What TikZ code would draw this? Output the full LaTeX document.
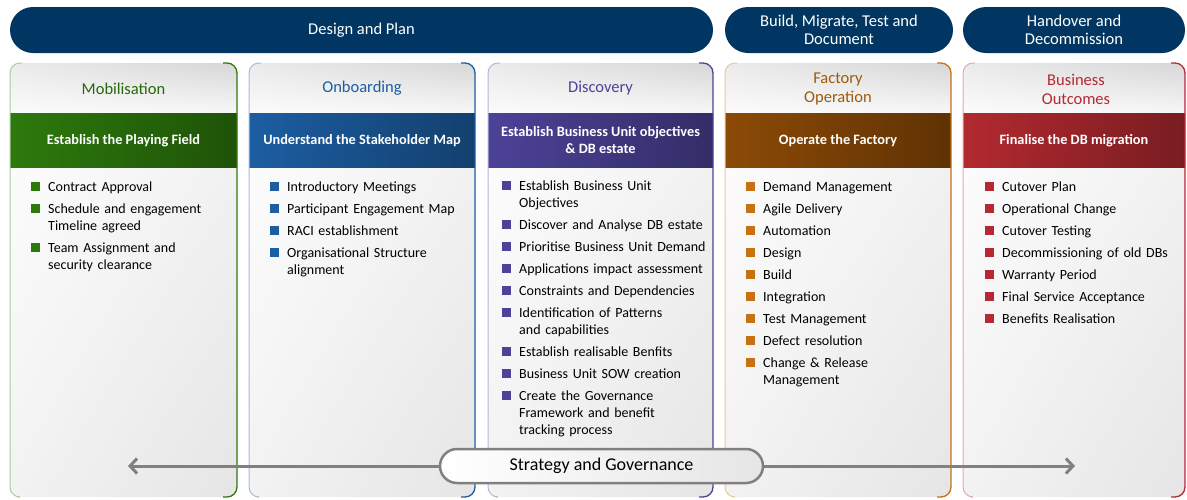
\documentclass[tikz,border=0pt]{standalone}
\usepackage{fontspec}
\setmainfont{Carlito}
\usepackage{enumitem}
\usetikzlibrary{
        arrows.meta,
        positioning,
        shadings,
        shapes.misc
    }
\definecolor{navy}{RGB}{0,54,97}
\definecolor{mobgreen}{RGB}{45,122,12}
\definecolor{onbblue}{RGB}{28,94,162}
\definecolor{discpurple}{RGB}{76,66,152}
\definecolor{factorange}{RGB}{196,114,18}
\definecolor{factband}{RGB}{140,74,6}
\definecolor{outred}{RGB}{182,40,52}
\definecolor{outband}{RGB}{178,42,48}
\tikzset{
  banner/.style={fill=navy,text=white,rounded corners=23pt,minimum height=46pt,
    inner sep=0pt,align=center,font=\fontsize{16.5}{18}\selectfont},
  phasetitle/.style={align=center,font=\fontsize{16.5}{19}\selectfont},
  bandtext/.style={text=white,align=center,font=\bfseries\fontsize{14.3}{16.5}\selectfont},
  tasklist/.style={anchor=north west,text width=215pt,align=left,inner sep=0pt,
    font=\fontsize{14}{17}\selectfont},
  govpill/.style={draw=gray,line width=2.5pt,rounded corners=17pt,minimum width=323pt,
    minimum height=34pt,left color=white,right color=black!10,
    font=\fontsize{18}{20}\selectfont},
  govarrow/.style={draw=gray,line width=3pt,-{Straight Barb[length=7pt,width=15pt]}}
}
% frame of one column: left x, right x, line colour, band colour
\newcommand{\phaseframe}[4]{%
  \shade[upper left=white,upper right=black!4,lower left=black!5,lower right=black!10,
    rounded corners=10pt] (#1,63) rectangle (#2,497);
  \shade[upper left=black!8,upper right=black!16,lower left=white,lower right=white,
    rounded corners=10pt] (#1,63) rectangle (#2,125);
  \shade[left color=#4,right color=#4!68!black] (#1,113) rectangle (#2,167);
  \draw[#3!40,line width=1pt,rounded corners=10pt] (#1+8,497) -- (#1,497) -- (#1,63) -- (#1+12,63);
  \draw[#3,line width=1.3pt,rounded corners=10pt] (#2-14,63) -- (#2,63) -- (#2,497) -- (#2-14,497);
}
% bullet list with coloured squares
\newcommand{\tasks}[2]{%
  \begin{itemize}[label={\color{#1}\raisebox{0.5pt}{\rule{8.5pt}{8.5pt}}},labelindent=0pt,
    labelwidth=8.5pt,labelsep=8.5pt,leftmargin=17pt,align=left,itemsep=5pt,parsep=0pt,
    topsep=0pt,partopsep=0pt]
  #2
  \end{itemize}}

\begin{document}
\begin{tikzpicture}[x=1pt,y=-1pt]
  \useasboundingbox (0,0) rectangle (1187,499);

  % phase banners
  \node[banner,minimum width=703pt] (dp) at (361.5,30) {Design and Plan};
  \node[banner,minimum width=228pt] (bm) at (839,30) {Build, Migrate, Test and\\Document};
  \node[banner,minimum width=222pt] (hd) at (1074,30) {Handover and\\Decommission};

  % columns
  \phaseframe{10}{237}{mobgreen}{mobgreen}
  \phaseframe{249}{475}{onbblue}{onbblue}
  \phaseframe{488}{713}{discpurple}{discpurple}
  \phaseframe{725}{951}{factorange}{factband}
  \phaseframe{963}{1185}{outred}{outband}

  \node[phasetitle,text=mobgreen!85!black] (mob) at (123.5,88.5) {Mobilisation};
  \node[phasetitle,text=onbblue] (onb) at (362,88.5) {Onboarding};
  \node[phasetitle,text=discpurple] (disc) at (600.5,88.5) {Discovery};
  \node[phasetitle,text=factorange!80!black] (fact) at (838,89) {Factory\\Operation};
  \node[phasetitle,text=outred] (outc) at (1076,89) {Business\\Outcomes};

  \node[bandtext] (mobband) at (123.5,140.5) {Establish the Playing Field};
  \node[bandtext] (onbband) at (362,140.5) {Understand the Stakeholder Map};
  \node[bandtext] (discband) at (600.5,140) {Establish Business Unit objectives\\\& DB estate};
  \node[bandtext] (factband) at (838,140.5) {Operate the Factory};
  \node[bandtext] (outband) at (1074,140.5) {Finalise the DB migration};

  \node[tasklist] (moblist) at (31,174) {\tasks{mobgreen}{
    \item Contract Approval
    \item Schedule and engagement\\Timeline agreed
    \item Team Assignment and\\security clearance}};
  \node[tasklist] (onblist) at (270,174) {\tasks{onbblue}{
    \item Introductory Meetings
    \item Participant Engagement Map
    \item RACI establishment
    \item Organisational Structure\\alignment}};
  \node[tasklist] (disclist) at (502,173) {\tasks{discpurple}{
    \item Establish Business Unit\\Objectives
    \item Discover and Analyse DB estate
    \item Prioritise Business Unit Demand
    \item Applications impact assessment
    \item Constraints and Dependencies
    \item Identification of Patterns\\and capabilities
    \item Establish realisable Benfits
    \item Business Unit SOW creation
    \item Create the Governance\\Framework and benefit\\tracking process}};
  \node[tasklist] (factlist) at (746,174) {\tasks{factorange}{
    \item Demand Management
    \item Agile Delivery
    \item Automation
    \item Design
    \item Build
    \item Integration
    \item Test Management
    \item Defect resolution
    \item Change \& Release\\Management}};
  \node[tasklist] (outlist) at (985,174) {\tasks{outred}{
    \item Cutover Plan
    \item Operational Change
    \item Cutover Testing
    \item Decommissioning of old DBs
    \item Warranty Period
    \item Final Service Acceptance
    \item Benefits Realisation}};

  % strategy and governance
  \node[govpill] (sg) at (601.5,466) {Strategy and Governance};
  \coordinate (sgl) at (128,466);
  \coordinate (sgr) at (1075,466);
  \draw[govarrow] (sg.west) -- (sgl);
  \draw[govarrow] (sg.east) -- (sgr);
\end{tikzpicture}
\end{document}
